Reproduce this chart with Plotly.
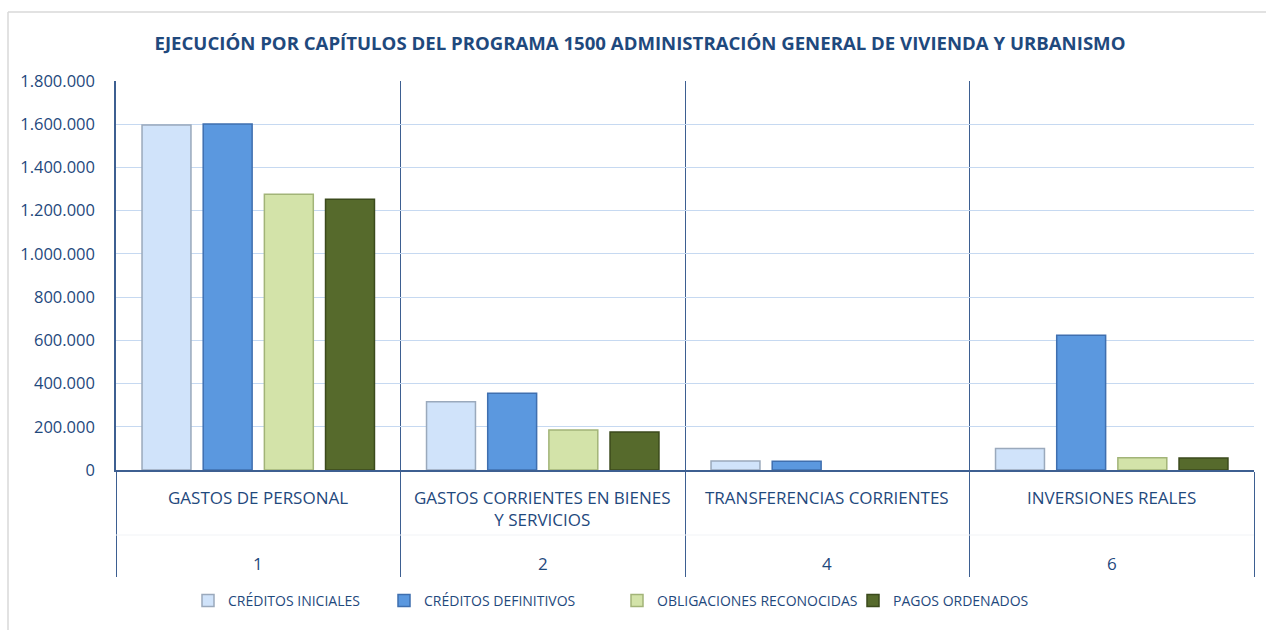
import plotly.graph_objects as go

categories = ["GASTOS DE PERSONAL", "GASTOS CORRIENTES EN BIENES<br>Y SERVICIOS",
              "TRANSFERENCIAS CORRIENTES", "INVERSIONES REALES"]
chapters = ["1", "2", "4", "6"]
creditos_iniciales = [1596000, 316000, 42000, 100000]
creditos_definitivos = [1601000, 355000, 41000, 624000]
obligaciones_reconocidas = [1276000, 185000, 0, 57000]
pagos_ordenados = [1253000, 176000, 0, 55000]
series_names = ["CRÉDITOS INICIALES", "CRÉDITOS DEFINITIVOS",
                "OBLIGACIONES RECONOCIDAS", "PAGOS ORDENADOS"]
y_ticks = [0, 200000, 400000, 600000, 800000, 1000000, 1200000, 1400000, 1600000, 1800000]

FONT = "Open Sans, Liberation Sans, sans-serif"
TXT = "#1F497D"
fills = ["#D0E3FA", "#5B98DF", "#D3E3A9", "#566A2C"]
edges = ["#9AA9BC", "#3F6FAF", "#A2B478", "#3B4A1C"]
legend_ids = ["legend", "legend2", "legend3", "legend4"]
legend_text_x = [228, 424, 657, 893]

PL, PR, PT, PB = 116, 1254, 81, 470
W, H = 1266, 630
ph = PB - PT
pw = PR - PL

def py(ypix):
    return (PB - ypix) / ph

def px(xpix):
    return (xpix - PL) / pw

fig = go.Figure()
for name, vals, fc, ec, lid in zip(series_names,
                                   [creditos_iniciales, creditos_definitivos,
                                    obligaciones_reconocidas, pagos_ordenados],
                                   fills, edges, legend_ids):
    fig.add_trace(go.Bar(x=categories, y=vals, name=name, legend=lid, showlegend=True,
                         marker=dict(color=fc,
                                     line=dict(color=ec,
                                               width=[0 if v == 0 else 1.5 for v in vals]))))

annotations = []
for c, ch in zip(categories, chapters):
    annotations.append(dict(x=c, xref="x", y=py(484), yref="paper", yanchor="top",
                            text=c, showarrow=False, font=dict(family=FONT, size=17, color=TXT)))
    annotations.append(dict(x=c, xref="x", y=py(563), yref="paper", yanchor="middle",
                            text=ch, showarrow=False, font=dict(family=FONT, size=17, color=TXT)))

shapes = [
    dict(type="line", xref="paper", yref="paper", x0=px(8), x1=px(8), y0=py(12), y1=py(640),
         line=dict(color="#D9D9D9", width=1.5)),
    dict(type="line", xref="paper", yref="paper", x0=px(8), x1=px(1280), y0=py(12), y1=py(12),
         line=dict(color="#D9D9D9", width=1.5)),
    dict(type="line", xref="paper", yref="paper", x0=0, x1=1, y0=py(535), y1=py(535),
         line=dict(color="#F1F3F6", width=1)),
]

legend_layout = {}
for lid, tx in zip(legend_ids, legend_text_x):
    legend_layout[lid] = dict(orientation="h", x=px(tx - 40), xanchor="left",
                              y=py(601), yanchor="middle", visible=True,
                              font=dict(family=FONT, size=14, color=TXT), itemwidth=30,
                              bgcolor="rgba(0,0,0,0)", borderwidth=0)

fig.update_layout(
    width=W, height=H,
    margin=dict(l=PL, r=W - PR, t=PT, b=H - PB, pad=0),
    paper_bgcolor="white", plot_bgcolor="white",
    separators=",.",
    showlegend=True,
    barmode="group", bargap=0.14, bargroupgap=0.2,
    title=dict(text="<b>EJECUCIÓN POR CAPÍTULOS DEL PROGRAMA 1500 ADMINISTRACIÓN GENERAL DE VIVIENDA Y URBANISMO</b>",
               x=640 / W, xanchor="center", xref="container",
               y=1 - 43 / H, yanchor="middle", yref="container",
               font=dict(family=FONT, size=18.6, color=TXT)),
    font=dict(family=FONT, size=15, color=TXT),
    xaxis=dict(type="category", tickson="boundaries", showgrid=True, gridcolor="#3D5F91",
               gridwidth=1, ticks="outside", ticklen=105, tickcolor="#3D5F91", tickwidth=1,
               showticklabels=False, showline=True, linecolor="#3D5F91", linewidth=1.5,
               zeroline=False),
    yaxis=dict(range=[0, 1800000], tickvals=y_ticks, tickformat=",d", showgrid=True,
               gridcolor="#C6D9F1", gridwidth=1, showline=True, linecolor="#3D5F91",
               linewidth=1.5, zeroline=False, ticks="", ticklabelstandoff=16,
               tickfont=dict(family=FONT, size=16.5, color=TXT)),
    annotations=annotations,
    shapes=shapes,
    **legend_layout,
)

fig.write_html("out.html", config={"displayModeBar": False},
               post_script="document.body.style.margin='0';document.body.style.padding='0';")
